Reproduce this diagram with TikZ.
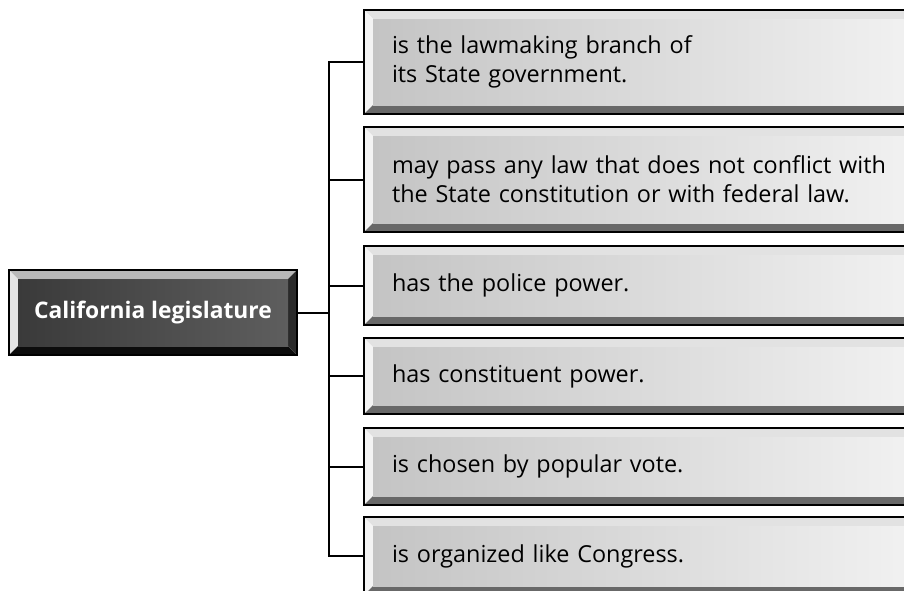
\documentclass[tikz,border=0pt]{standalone}
\usepackage{fontspec}
\setmainfont{Open Sans}
\usetikzlibrary{calc}
\newcommand\bevelpic[7]{%
  \path (path picture bounding box.north west) coordinate (bvA)
        (path picture bounding box.south east) coordinate (bvC);
  \fill[#2] (bvA) -- (bvA -| bvC) -- ($(bvA -| bvC)+(-#1,#1)$) -- ($(bvA)+(#1,#1)$) -- cycle;
  \fill[#3] (bvA) -- ($(bvA)+(#1,#1)$) -- ($(bvA |- bvC)+(#1,-#1)$) -- (bvA |- bvC) -- cycle;
  \fill[#4] (bvA |- bvC) -- ($(bvA |- bvC)+(#1,-#1)$) -- ($(bvC)+(-#1,-#1)$) -- (bvC) -- cycle;
  \fill[#5] (bvA -| bvC) -- (bvC) -- ($(bvC)+(-#1,-#1)$) -- ($(bvA -| bvC)+(-#1,#1)$) -- cycle;
  \shade[left color=#6, right color=#7] ($(bvA)+(#1,#1)$) rectangle ($(bvC)+(-#1,-#1)$);
}
\definecolor{mtop}{HTML}{B8B8B8}
\definecolor{mleft}{HTML}{E4E4E4}
\definecolor{mbot}{HTML}{0C0C0C}
\definecolor{mright}{HTML}{2A2A2A}
\definecolor{min1}{HTML}{3A3A3A}
\definecolor{min2}{HTML}{5E5E5E}
\definecolor{rtop}{HTML}{E2E2E2}
\definecolor{rleft}{HTML}{F4F4F4}
\definecolor{rbot}{HTML}{686868}
\definecolor{rright}{HTML}{8A8A8A}
\definecolor{rin1}{HTML}{C4C4C4}
\definecolor{rin2}{HTML}{F2F2F2}
\tikzset{
  mainbox/.style={draw=black, line width=2pt, anchor=north west, inner sep=0pt,
    minimum width=288pt, minimum height=85pt, text=white,
    font=\fontsize{22.8}{27}\selectfont\bfseries,
    path picture={\bevelpic{9}{mtop}{mleft}{mbot}{mright}{min1}{min2}}},
  rbox/.style={draw=black, line width=2pt, anchor=north west, inner ysep=0pt,
    inner xsep=28pt, text width=511pt, align=left, minimum width=567pt,
    text=black, font=\fontsize{23.4}{29}\selectfont,
    path picture={\bevelpic{9}{rtop}{rleft}{rbot}{rright}{rin1}{rin2}}},
  conn/.style={draw=black, line width=2pt}
}
\begin{document}
\begin{tikzpicture}[x=1pt,y=-1pt]
\useasboundingbox (0,0) rectangle (904,590);
\fill[white] (0,0) rectangle (904,590);
\clip (0,0) rectangle (904,590);
\node[mainbox] (main) at (8,269) {California legislature};
\node[rbox, minimum height=104pt] (b1) at (363,9) {is the lawmaking branch of\\its State government.};
\node[rbox, minimum height=105pt] (b2) at (363,126) {may pass any law that does not conflict with\\the State constitution or with federal law.};
\node[rbox, minimum height=79pt] (b3) at (363,245) {has the police power.};
\node[rbox, minimum height=76pt] (b4) at (363,337) {has constituent power.};
\node[rbox, minimum height=77pt] (b5) at (363,427) {is chosen by popular vote.};
\node[rbox, minimum height=78pt] (b6) at (363,516) {is organized like Congress.};
\coordinate (tr) at (329,0);
\draw[conn] (main.east) -- (main.east -| tr);
\draw[conn, line cap=rect] (b1.west -| tr) -- (b6.west -| tr);
\foreach \i in {1,...,6} {
  \draw[conn] (b\i.west -| tr) -- (b\i.west);
}
\end{tikzpicture}
\end{document}
